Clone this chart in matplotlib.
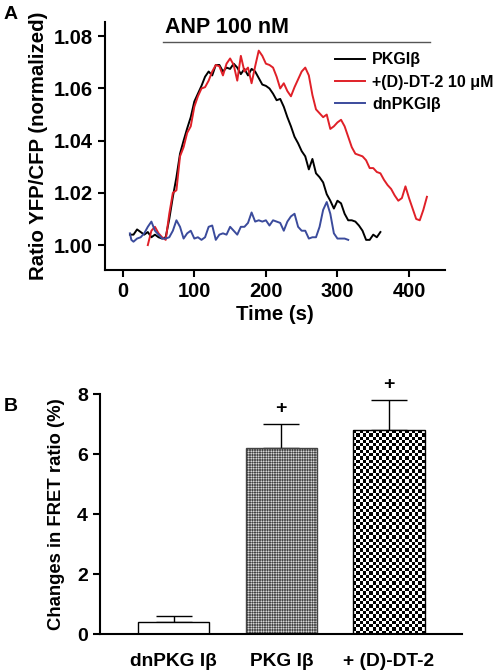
import matplotlib
matplotlib.use('Agg')
import matplotlib.pyplot as plt
import numpy as np

plt.rcParams['font.family'] = ['Liberation Sans', 'DejaVu Sans']
plt.rcParams['font.weight'] = 'bold'
plt.rcParams['hatch.linewidth'] = 0.4

# panel A: FRET ratio traces
t_pkg = [10, 15, 20, 25, 30, 35, 40, 45, 50, 55, 60, 65, 70, 75, 80, 85, 90, 95, 100,
         105, 110, 115, 120, 125, 130, 135, 140, 145, 150, 155, 160, 165, 170, 175, 180,
         185, 190, 195, 200, 205, 210, 215, 220, 225, 230, 235, 240, 245, 250, 255, 260,
         265, 270, 275, 280, 285, 290, 295, 300, 305, 310, 315, 320, 325, 330, 335, 340,
         345, 350, 355, 360]
r_pkg = [1.004, 1.004, 1.006, 1.005, 1.004, 1.005, 1.003, 1.004, 1.003, 1.0025, 1.003,
         1.010, 1.0185, 1.026, 1.035, 1.040, 1.0447, 1.049, 1.055, 1.058, 1.061, 1.0645,
         1.0665, 1.065, 1.069, 1.069, 1.0665, 1.068, 1.0675, 1.0695, 1.068, 1.0655, 1.0675,
         1.065, 1.0675, 1.0665, 1.064, 1.0615, 1.061, 1.060, 1.058, 1.0555, 1.056, 1.053,
         1.049, 1.0455, 1.0415, 1.039, 1.036, 1.034, 1.029, 1.033, 1.0275, 1.026, 1.024,
         1.0195, 1.017, 1.014, 1.017, 1.016, 1.012, 1.0095, 1.0095, 1.009, 1.0075, 1.0055,
         1.002, 1.002, 1.004, 1.003, 1.005]

t_dt2 = [35, 40, 45, 50, 55, 60, 65, 70, 75, 80, 85, 90, 95, 100, 105, 110, 115, 120,
         125, 130, 135, 140, 145, 150, 155, 160, 165, 170, 175, 180, 185, 190, 195, 200,
         205, 210, 215, 220, 225, 230, 235, 240, 245, 250, 255, 260, 265, 270, 275, 280,
         285, 290, 295, 300, 305, 310, 315, 320, 325, 330, 335, 340, 345, 350, 355, 360,
         365, 370, 375, 380, 385, 390, 395, 400, 405, 410, 415, 420, 425]
r_dt2 = [1.000, 1.0055, 1.007, 1.0045, 1.003, 1.002, 1.012, 1.020, 1.021, 1.034, 1.0375,
         1.043, 1.0455, 1.053, 1.057, 1.060, 1.0605, 1.063, 1.0665, 1.069, 1.0685, 1.065,
         1.0695, 1.0715, 1.069, 1.063, 1.0725, 1.0665, 1.068, 1.062, 1.0685, 1.0745,
         1.0725, 1.0695, 1.069, 1.068, 1.0645, 1.060, 1.062, 1.059, 1.057, 1.0605, 1.0635,
         1.0665, 1.068, 1.065, 1.0575, 1.052, 1.0505, 1.049, 1.050, 1.0445, 1.0455, 1.047,
         1.048, 1.0455, 1.0415, 1.0375, 1.035, 1.0345, 1.034, 1.0325, 1.0295, 1.0295,
         1.028, 1.0275, 1.025, 1.023, 1.0215, 1.019, 1.017, 1.018, 1.0225, 1.018, 1.014,
         1.010, 1.0095, 1.0135, 1.0185]

t_dn = [10, 12, 15, 20, 25, 30, 35, 40, 45, 50, 55, 60, 65, 70, 75, 80, 85, 90, 95, 100,
        105, 110, 115, 120, 125, 130, 135, 140, 145, 150, 155, 160, 165, 170, 175, 180,
        185, 190, 195, 200, 205, 210, 215, 220, 225, 230, 235, 240, 245, 250, 255, 260,
        265, 270, 275, 280, 285, 290, 295, 300, 305, 310, 315]
r_dn = [1.0045, 1.002, 1.0013, 1.0025, 1.003, 1.0045, 1.007, 1.009, 1.0055, 1.004, 1.0025,
        1.0025, 1.003, 1.0055, 1.0095, 1.007, 1.0025, 1.0045, 1.0055, 1.0025, 1.003, 1.002,
        1.003, 1.007, 1.0075, 1.002, 1.004, 1.0045, 1.004, 1.007, 1.0055, 1.004, 1.007,
        1.007, 1.0085, 1.0125, 1.009, 1.0095, 1.009, 1.0095, 1.0075, 1.0095, 1.009, 1.0085,
        1.0055, 1.009, 1.011, 1.012, 1.007, 1.0055, 1.0055, 1.0025, 1.003, 1.003, 1.007,
        1.0135, 1.0165, 1.012, 1.0045, 1.0025, 1.0025, 1.0025, 1.002]

anp_start, anp_end = 56, 429

# panel B: bar summary
groups = ['dnPKG I\u03b2', 'PKG I\u03b2', '+ (D)-DT-2']
change = [0.4, 6.2, 6.8]
sem = [0.2, 0.8, 1.0]
signif = ['', '+', '+']

fig = plt.figure(figsize=(4.97, 6.72), dpi=100)

ax1 = fig.add_axes([0.211, 0.598, 0.684, 0.369])
ax1.plot(t_pkg, r_pkg, color='black', lw=1.4, label='PKGI\u03b2')
ax1.plot(t_dt2, r_dt2, color='#e02028', lw=1.4, label='+(D)-DT-2 10 \u03bcM')
ax1.plot(t_dn, r_dn, color='#3b4b9c', lw=1.4, label='dnPKGI\u03b2')
ax1.plot([anp_start, anp_end], [1.0777, 1.0777], color='#555555', lw=1.0, clip_on=False)
ax1.text(145, 1.0793, 'ANP 100 nM', ha='center', va='bottom',
         fontsize=15.5, fontweight='bold')
ax1.set_xlim(-25, 450)
ax1.set_ylim(0.9904, 1.0854)
ax1.set_xticks([0, 100, 200, 300, 400])
ax1.set_yticks([1.00, 1.02, 1.04, 1.06, 1.08])
ax1.set_yticklabels(['1.00', '1.02', '1.04', '1.06', '1.08'])
ax1.spines[['top', 'right']].set_visible(False)
for s in ['left', 'bottom']:
    ax1.spines[s].set_linewidth(1.5)
ax1.tick_params(width=1.5, length=5, labelsize=14.5)
ax1.set_xlabel('Time (s)', fontsize=14.7, fontweight='bold', labelpad=3)
ax1.set_ylabel('Ratio YFP/CFP (normalized)', fontsize=14.7, fontweight='bold', labelpad=4)
ax1.legend(loc='upper left', bbox_to_anchor=(0.676, 0.878), frameon=False, fontsize=11.5,
           handlelength=1.9, handletextpad=0.45, labelspacing=0.45, borderpad=0,
           borderaxespad=0)
fig.text(0.008, 0.978, 'A', fontsize=14, fontweight='bold', va='center')

ax2 = fig.add_axes([0.201, 0.0565, 0.729, 0.357])
x = np.arange(len(groups))
bars = ax2.bar(x, change, width=0.66, color='white', edgecolor='black', lw=1.0, zorder=2)
# fine grid fill for PKG bar
bars[1].set_hatch('++++++++++')
bars[1].set_edgecolor('#444444')
# checkerboard fill for the DT-2 bar, clipped to the bar
b = bars[2]
nx, ny = 22, 62
checks = (np.add.outer(np.arange(ny), np.arange(nx)) % 2).astype(float)
im = ax2.imshow(checks, cmap='gray', vmin=0, vmax=1, aspect='auto', interpolation='nearest',
                extent=(b.get_x(), b.get_x() + b.get_width(), 0, b.get_height()), zorder=1.5)
im.set_clip_path(b)
ax2.errorbar(x, change, yerr=[[0] * len(sem), sem], fmt='none', ecolor='black',
             elinewidth=1.0, capsize=13, capthick=1.0, zorder=1)
b.set_facecolor('none')
b.set_zorder(3)
for xi, v, e, s in zip(x, change, sem, signif):
    ax2.text(xi, v + e + 0.25, s, ha='center', va='bottom', fontsize=14, fontweight='bold')
ax2.set_xlim(-0.684, 2.68)
ax2.set_ylim(0, 8)
ax2.set_yticks([0, 2, 4, 6, 8])
ax2.set_xticks(list(x))
ax2.set_xticklabels(groups)
ax2.spines[['top', 'right']].set_visible(False)
for s in ['left', 'bottom']:
    ax2.spines[s].set_linewidth(1.5)
ax2.tick_params(axis='y', width=1.5, length=5, labelsize=14)
ax2.tick_params(axis='x', length=0, labelsize=13.8, pad=14)
ax2.set_ylabel('Changes in FRET ratio (%)', fontsize=13.3, fontweight='bold', labelpad=9)
fig.text(0.008, 0.395, 'B', fontsize=14, fontweight='bold', va='center')

fig.savefig('out.png', dpi=100)
